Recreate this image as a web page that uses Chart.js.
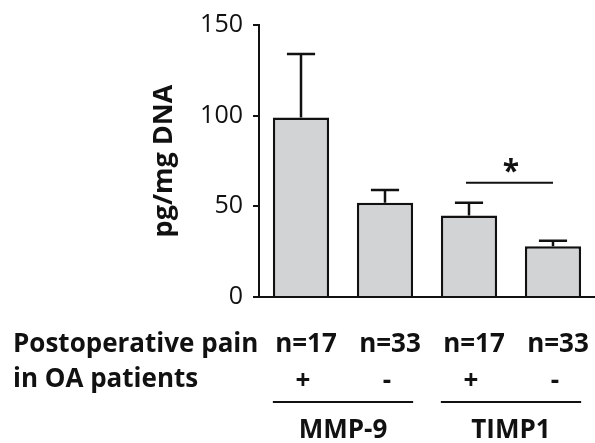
<!DOCTYPE html>
<html>
<head>
<meta charset="utf-8">
<script src="https://cdn.jsdelivr.net/npm/chart.js@4"></script>
<style>
  html, body { margin: 0; padding: 0; background: #fff; }
  #wrap { width: 595px; height: 443px; }
</style>
</head>
<body>
<div id="wrap"><canvas id="myChart"></canvas></div>
<script>
const categories = ["MMP-9 +", "MMP-9 -", "TIMP1 +", "TIMP1 -"];
const means = [99, 52, 45, 28];
const sem = [35, 7, 7, 3];
const nLabels = ["n=17", "n=33", "n=17", "n=33"];
const painSigns = ["+", "-", "+", "-"];
const groupNames = ["MMP-9", "TIMP1"];
const groupMembers = [[0, 1], [2, 3]];
const sigPair = [2, 3];
const sigLevel = 63;
const yTicks = [0, 50, 100, 150];

const FONT = "'Open Sans', sans-serif";
const INK = "#111111";

const extras = {
  id: "extras",
  afterDatasetsDraw(chart) {
    const { ctx } = chart;
    const x = chart.scales.x;
    const y = chart.scales.y;
    const meta = chart.getDatasetMeta(0);
    ctx.save();
    ctx.strokeStyle = INK;
    ctx.lineWidth = 2.5;
    ctx.lineCap = "butt";

    // error bars (upper only)
    means.forEach((m, i) => {
      const cx = x.getPixelForValue(i);
      const half = meta.data[i].width / 4;
      const y0 = y.getPixelForValue(m);
      const y1 = y.getPixelForValue(m + sem[i]);
      ctx.beginPath();
      ctx.moveTo(cx, y0);
      ctx.lineTo(cx, y1);
      ctx.moveTo(cx - half, y1);
      ctx.lineTo(cx + half, y1);
      ctx.stroke();
    });

    // significance line
    const sx0 = x.getPixelForValue(sigPair[0]);
    const sx1 = x.getPixelForValue(sigPair[1]);
    const sy = y.getPixelForValue(sigLevel);
    ctx.lineWidth = 2;
    ctx.beginPath();
    ctx.moveTo(sx0 - 3, sy);
    ctx.lineTo(sx1, sy);
    ctx.stroke();
    ctx.fillStyle = INK;
    ctx.font = "bold 30px " + FONT;
    ctx.textAlign = "center";
    ctx.textBaseline = "alphabetic";
    ctx.fillText("*", (sx0 + sx1) / 2, sy - 2);

    // labels under the axis
    ctx.font = "bold 26px " + FONT;
    ctx.textAlign = "left";
    ctx.fillText("Postoperative pain", 13, 352);
    ctx.fillText("in OA patients", 13, 387);

    ctx.textAlign = "center";
    nLabels.forEach((t, i) => {
      ctx.fillText(t, x.getPixelForValue(i) + 5, 352);
    });
    painSigns.forEach((t, i) => {
      ctx.fillText(t, x.getPixelForValue(i) + 2, 389);
    });

    ctx.lineWidth = 2;
    groupMembers.forEach((g, k) => {
      const b0 = meta.data[g[0]];
      const b1 = meta.data[g[g.length - 1]];
      const lx0 = b0.x - b0.width / 2;
      const lx1 = b1.x + b1.width / 2;
      ctx.beginPath();
      ctx.moveTo(lx0, 402);
      ctx.lineTo(lx1, 402);
      ctx.stroke();
      ctx.fillText(groupNames[k], (lx0 + lx1) / 2, 438);
    });
    ctx.restore();
  }
};

const ctx = document.getElementById("myChart");

new Chart(ctx, {
  type: "bar",
  data: {
    labels: categories,
    datasets: [
      {
        data: means,
        backgroundColor: "#d2d3d5",
        borderColor: INK,
        borderWidth: 2.5,
        borderSkipped: "start",
        categoryPercentage: 1,
        barPercentage: 0.67,
      },
    ],
  },
  options: {
    responsive: true,
    maintainAspectRatio: false,
    animation: false,
    devicePixelRatio: 1,
    layout: {
      padding: { left: 148, top: 25, right: 0, bottom: 146 },
    },
    plugins: {
      legend: { display: false },
      tooltip: { enabled: false },
    },
    scales: {
      x: {
        grid: { display: false },
        ticks: { display: false },
        border: { display: true, color: INK, width: 2 },
        afterFit(scale) {
          scale.height = 0;
        },
      },
      y: {
        min: 0,
        max: 150,
        afterBuildTicks(scale) {
          scale.ticks = yTicks.map((v) => ({ value: v }));
        },
        afterFit(scale) {
          scale.width = 111;
        },
        grid: {
          drawOnChartArea: false,
          drawTicks: true,
          tickLength: 6,
          color: INK,
          lineWidth: 2,
        },
        border: { display: true, color: INK, width: 2 },
        ticks: {
          color: INK,
          padding: 10,
          font: { family: FONT, size: 25 },
        },
        title: {
          display: true,
          text: "pg/mg DNA",
          color: INK,
          padding: 0,
          font: { family: FONT, size: 27, weight: "bold" },
        },
      },
    },
  },
  plugins: [extras],
});
</script>
</body>
</html>
